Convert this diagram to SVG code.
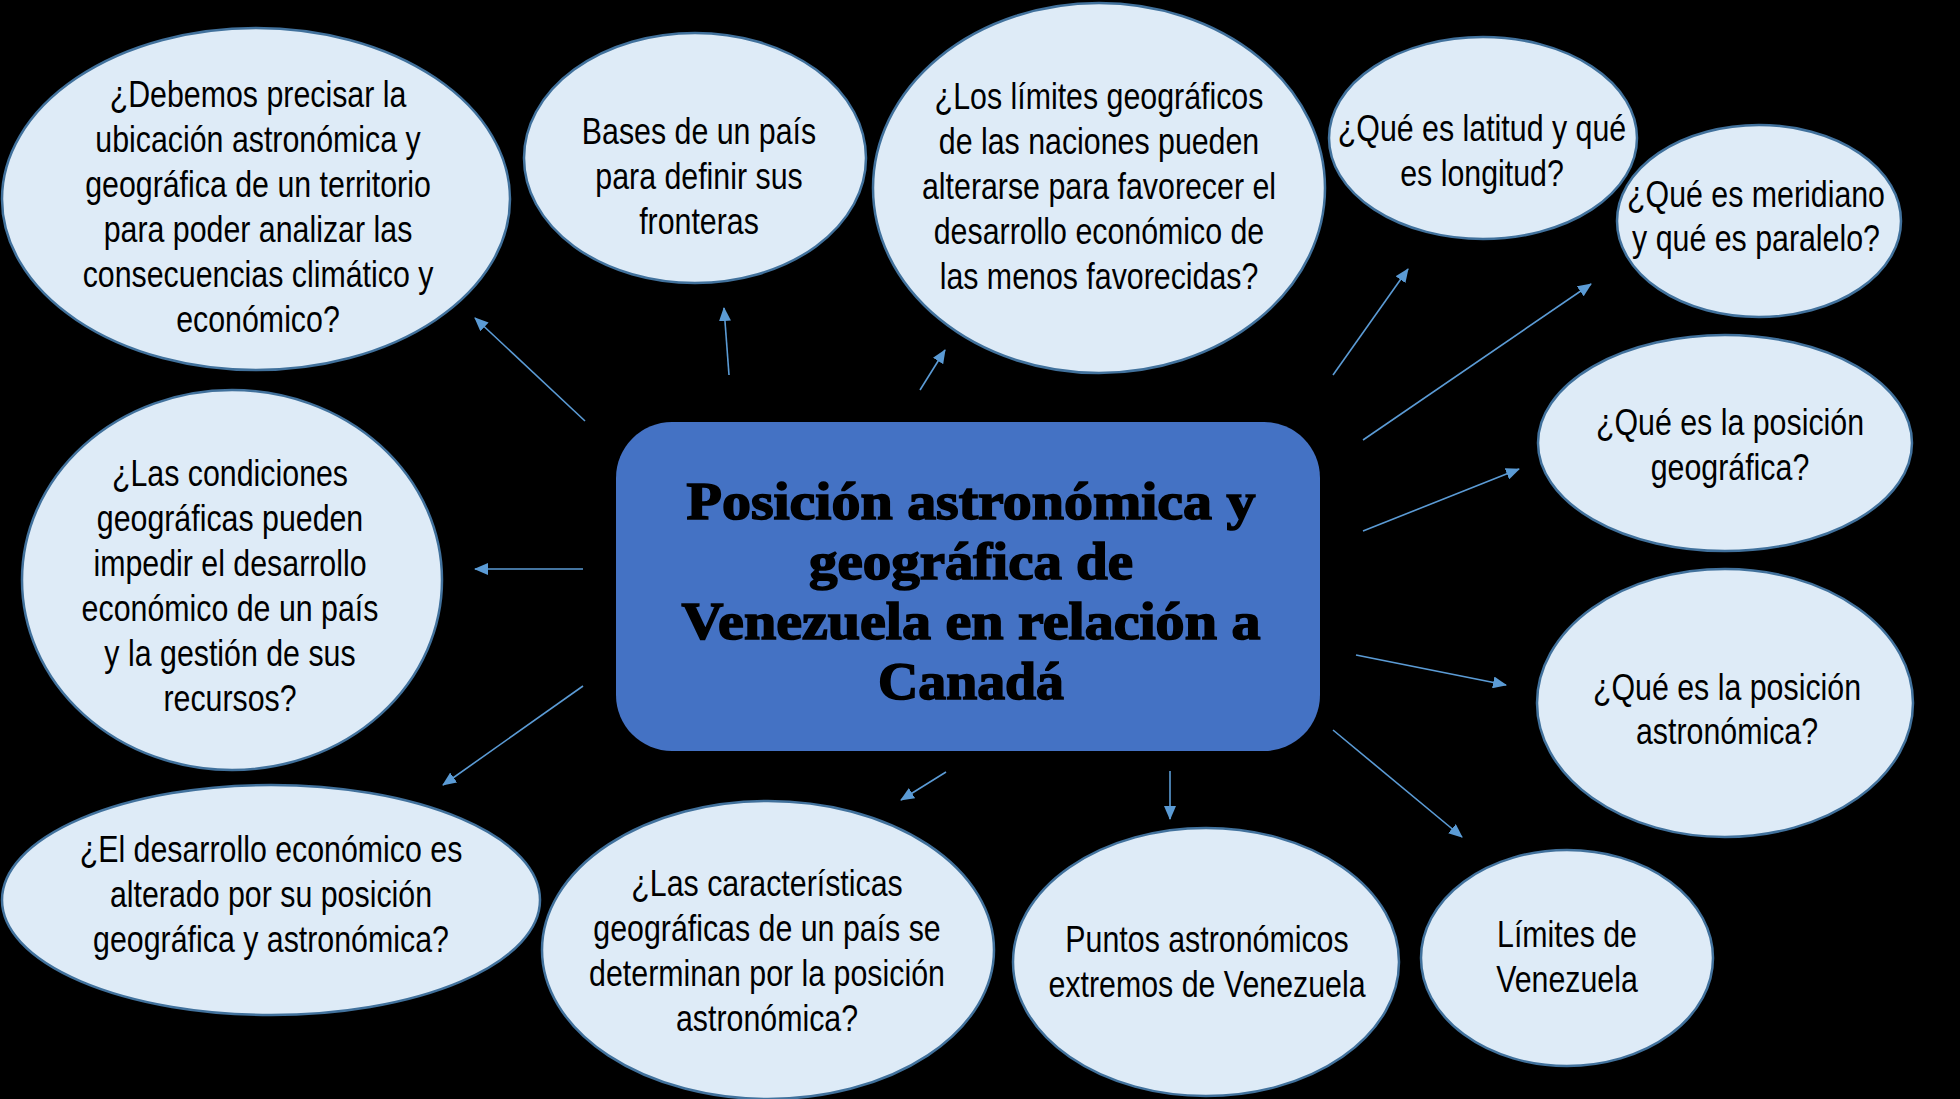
<svg xmlns="http://www.w3.org/2000/svg" width="1960" height="1099" viewBox="0 0 1960 1099">
<defs>
<style>
.bub{fill:#DEEBF7;stroke:#41719C;stroke-width:2.5}
.t{font-family:"Liberation Sans",Arial,sans-serif;font-size:37px;fill:#000;text-anchor:middle}
.ct{font-family:"Liberation Serif","Times New Roman",serif;font-weight:bold;font-size:53px;fill:#000;stroke:#000;stroke-width:1.6;text-anchor:middle}
.c{stroke:#5B9BD5;stroke-width:1.6;fill:none;marker-end:url(#ah)}
</style>
<marker id="ah" markerWidth="14" markerHeight="12" refX="13" refY="6" orient="auto" markerUnits="userSpaceOnUse">
<path d="M0,0 L14,6 L0,12 Z" fill="#5B9BD5"/>
</marker>
</defs>
<rect x="0" y="0" width="1960" height="1099" fill="#000"/>
<g id="connectors">
<line class="c" x1="585" y1="421" x2="475" y2="318"/>
<line class="c" x1="729" y1="375" x2="724" y2="308"/>
<line class="c" x1="920" y1="390" x2="945" y2="350"/>
<line class="c" x1="1333" y1="375" x2="1408" y2="269"/>
<line class="c" x1="1363" y1="440" x2="1591" y2="284"/>
<line class="c" x1="1363" y1="531" x2="1519" y2="469"/>
<line class="c" x1="1356" y1="655" x2="1506" y2="685"/>
<line class="c" x1="1333" y1="730" x2="1462" y2="837"/>
<line class="c" x1="1170" y1="771" x2="1170" y2="819"/>
<line class="c" x1="946" y1="772" x2="901" y2="800"/>
<line class="c" x1="583" y1="686" x2="443" y2="785"/>
<line class="c" x1="583" y1="569" x2="475" y2="569"/>
</g>
<g id="center">
<rect x="616" y="422" width="704" height="329" rx="56" fill="#4472C4"/>
<text class="ct" x="971" y="519" textLength="569" lengthAdjust="spacingAndGlyphs">Posición astronómica y</text>
<text class="ct" x="971" y="579" textLength="324" lengthAdjust="spacingAndGlyphs">geográfica de</text>
<text class="ct" x="971" y="639" textLength="579" lengthAdjust="spacingAndGlyphs">Venezuela en relación a</text>
<text class="ct" x="971" y="699" textLength="186" lengthAdjust="spacingAndGlyphs">Canadá</text>
</g>
<g id="n1">
<ellipse class="bub" cx="256" cy="199" rx="254" ry="171"/>
<text class="t" transform="matrix(0.82,0,0,1,258,0)"><tspan x="0" y="107">¿Debemos precisar la</tspan><tspan x="0" y="152">ubicación astronómica y</tspan><tspan x="0" y="197">geográfica de un territorio</tspan><tspan x="0" y="242">para poder analizar las</tspan><tspan x="0" y="287">consecuencias climático y</tspan><tspan x="0" y="332">económico?</tspan></text>
</g>
<g id="n2">
<ellipse class="bub" cx="695" cy="158" rx="171" ry="125"/>
<text class="t" transform="matrix(0.82,0,0,1,699,0)"><tspan x="0" y="144">Bases de un país</tspan><tspan x="0" y="189">para definir sus</tspan><tspan x="0" y="234">fronteras</tspan></text>
</g>
<g id="n3">
<ellipse class="bub" cx="1099" cy="188" rx="226" ry="185"/>
<text class="t" transform="matrix(0.82,0,0,1,1099,0)"><tspan x="0" y="109">¿Los límites geográficos</tspan><tspan x="0" y="154">de las naciones pueden</tspan><tspan x="0" y="199">alterarse para favorecer el</tspan><tspan x="0" y="244">desarrollo económico de</tspan><tspan x="0" y="289">las menos favorecidas?</tspan></text>
</g>
<g id="n4">
<ellipse class="bub" cx="1483" cy="138" rx="154" ry="101"/>
<text class="t" transform="matrix(0.82,0,0,1,1482,0)"><tspan x="0" y="141">¿Qué es latitud y qué</tspan><tspan x="0" y="186">es longitud?</tspan></text>
</g>
<g id="n5">
<ellipse class="bub" cx="1759" cy="221" rx="142" ry="96"/>
<text class="t" transform="matrix(0.82,0,0,1,1756,0)"><tspan x="0" y="207">¿Qué es meridiano</tspan><tspan x="0" y="251">y qué es paralelo?</tspan></text>
</g>
<g id="n6">
<ellipse class="bub" cx="1725" cy="443" rx="187" ry="108"/>
<text class="t" transform="matrix(0.82,0,0,1,1730,0)"><tspan x="0" y="435">¿Qué es la posición</tspan><tspan x="0" y="480">geográfica?</tspan></text>
</g>
<g id="n7">
<ellipse class="bub" cx="1725" cy="703" rx="188" ry="134"/>
<text class="t" transform="matrix(0.82,0,0,1,1727,0)"><tspan x="0" y="700">¿Qué es la posición</tspan><tspan x="0" y="744">astronómica?</tspan></text>
</g>
<g id="n8">
<ellipse class="bub" cx="1567" cy="958" rx="146" ry="108"/>
<text class="t" transform="matrix(0.82,0,0,1,1567,0)"><tspan x="0" y="947">Límites de</tspan><tspan x="0" y="992">Venezuela</tspan></text>
</g>
<g id="n9">
<ellipse class="bub" cx="1206" cy="962" rx="193" ry="134"/>
<text class="t" transform="matrix(0.82,0,0,1,1207,0)"><tspan x="0" y="952">Puntos astronómicos</tspan><tspan x="0" y="997">extremos de Venezuela</tspan></text>
</g>
<g id="n10">
<ellipse class="bub" cx="768" cy="950" rx="226" ry="149"/>
<text class="t" transform="matrix(0.82,0,0,1,767,0)"><tspan x="0" y="896">¿Las características</tspan><tspan x="0" y="941">geográficas de un país se</tspan><tspan x="0" y="986">determinan por la posición</tspan><tspan x="0" y="1031">astronómica?</tspan></text>
</g>
<g id="n11">
<ellipse class="bub" cx="271" cy="900" rx="269" ry="115"/>
<text class="t" transform="matrix(0.82,0,0,1,271,0)"><tspan x="0" y="862">¿El desarrollo económico es</tspan><tspan x="0" y="907">alterado por su posición</tspan><tspan x="0" y="952">geográfica y astronómica?</tspan></text>
</g>
<g id="n12">
<ellipse class="bub" cx="232" cy="580" rx="210" ry="190"/>
<text class="t" transform="matrix(0.82,0,0,1,230,0)"><tspan x="0" y="486">¿Las condiciones</tspan><tspan x="0" y="531">geográficas pueden</tspan><tspan x="0" y="576">impedir el desarrollo</tspan><tspan x="0" y="621">económico de un país</tspan><tspan x="0" y="666">y la gestión de sus</tspan><tspan x="0" y="711">recursos?</tspan></text>
</g>
</svg>
